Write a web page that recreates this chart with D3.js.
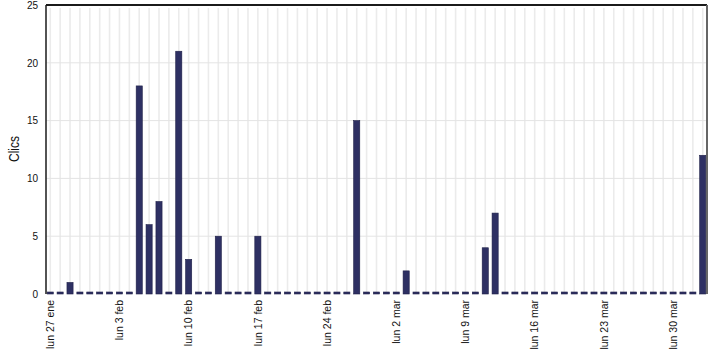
<!DOCTYPE html>
<html>
<head>
<meta charset="utf-8">
<script src="https://cdn.jsdelivr.net/npm/d3@7"></script>
<style>
	body { margin: 0; background: #fff; }
	text { font-family: 'Liberation Sans', Arial, sans-serif; fill: #111; }
</style>
</head>
<body>
<div id="barChart"></div>
<script>
// one bar per day, 27 ene -> 2 abr 2020
const startDay = new Date(2020, 0, 27);
const endDay = new Date(2020, 3, 3);
const clicks = [
	0, 0, 1, 0, 0, 0, 0, 0, 0, 18,
	6, 8, 0, 21, 3, 0, 0, 5, 0, 0,
	0, 5, 0, 0, 0, 0, 0, 0, 0, 0,
	0, 15, 0, 0, 0, 0, 2, 0, 0, 0,
	0, 0, 0, 0, 4, 7, 0, 0, 0, 0,
	0, 0, 0, 0, 0, 0, 0, 0, 0, 0,
	0, 0, 0, 0, 0, 0, 12
];
const tickDays = [0, 7, 14, 21, 28, 35, 42, 49, 56, 63];
const tickLabels = ['lun 27 ene', 'lun 3 feb', 'lun 10 feb', 'lun 17 feb', 'lun 24 feb',
	'lun 2 mar', 'lun 9 mar', 'lun 16 mar', 'lun 23 mar', 'lun 30 mar'];
const yTicks = [0, 5, 10, 15, 20, 25];

const drawChart = () => {
	var margin = { top: 5, right: 6, bottom: 57, left: 46 };
	var width = 713 - margin.left - margin.right;
	var height = 351 - margin.top - margin.bottom;

	var days = d3.timeDay.range(startDay, endDay);
	var data = days.map((d, i) => ({ day: d, index: i, amount: clicks[i] }));

	var svg = d3
		.select('#barChart')
		.append('svg')
		.attr('width', 713)
		.attr('height', 351)
		.append('g')
		.attr('transform', 'translate(' + margin.left + ',' + margin.top + ')');

	var x = d3
		.scaleBand()
		.range([0, width])
		.domain(data.map((d) => d.index))
		.paddingInner(0.38)
		.paddingOuter(0.12);

	var y = d3.scaleLinear().domain([0, 25]).range([height, 0]);

	// grid
	svg.append('g')
		.selectAll('line')
		.data(data)
		.enter()
		.append('line')
		.attr('x1', (d) => x(d.index) + x.bandwidth() / 2)
		.attr('x2', (d) => x(d.index) + x.bandwidth() / 2)
		.attr('y1', 3)
		.attr('y2', height)
		.attr('stroke', '#ebebeb')
		.attr('stroke-width', 1.6);

	svg.append('g')
		.selectAll('line')
		.data(yTicks.slice(1, -1))
		.enter()
		.append('line')
		.attr('x1', 0)
		.attr('x2', width)
		.attr('y1', (d) => y(d))
		.attr('y2', (d) => y(d))
		.attr('stroke', '#e4e4e4')
		.attr('stroke-width', 1);

	// Y axis labels
	svg.append('g')
		.attr('transform', 'translate(-8,0)')
		.call(d3.axisLeft(y).tickValues(yTicks).tickSize(0).tickPadding(0))
		.call((g) => g.select('.domain').remove())
		.selectAll('text')
		.attr('font-size', '10px')
		.attr('fill', '#111');

	svg.append('text')
		.attr('transform', 'translate(' + (-27) + ',' + 144 + ')rotate(-90)')
		.attr('text-anchor', 'middle')
		.attr('font-size', '15px')
		.attr('textLength', 26)
		.attr('lengthAdjust', 'spacingAndGlyphs')
		.text('Clics');

	// X axis labels
	svg.append('g')
		.attr('transform', 'translate(0,' + (height + 6) + ')')
		.call(
			d3.axisBottom(x)
				.tickValues(tickDays)
				.tickFormat((d, i) => tickLabels[i])
				.tickSize(0)
				.tickPadding(0)
		)
		.call((g) => g.select('.domain').remove())
		.selectAll('text')
		.attr('font-size', '10.5px')
		.attr('fill', '#111')
		.attr('transform', 'rotate(-90)')
		.attr('y', 0)
		.attr('x', 0)
		.attr('dy', '0.35em')
		.style('text-anchor', 'end');

	// Bars (zero days still show a small stub)
	svg.selectAll('.bar')
		.data(data)
		.enter()
		.append('rect')
		.attr('class', 'bar')
		.attr('x', (d) => x(d.index))
		.attr('y', (d) => Math.min(y(d.amount), height - 2))
		.attr('width', x.bandwidth())
		.attr('height', (d) => Math.max(height - y(d.amount), 2))
		.attr('fill', '#2e3063')
		.attr('stroke', '#1f2048')
		.attr('stroke-width', 0.6);

	// frame
	svg.append('line')
		.attr('x1', 0).attr('x2', width)
		.attr('y1', 0).attr('y2', 0)
		.attr('stroke', '#1a1a1a').attr('stroke-width', 2);
	svg.append('line')
		.attr('x1', 0).attr('x2', 0)
		.attr('y1', 0).attr('y2', height)
		.attr('stroke', '#1a1a1a').attr('stroke-width', 1.5);
	svg.append('line')
		.attr('x1', width).attr('x2', width)
		.attr('y1', 0).attr('y2', height)
		.attr('stroke', '#666').attr('stroke-width', 2);
};

drawChart();
</script>
</body>
</html>
